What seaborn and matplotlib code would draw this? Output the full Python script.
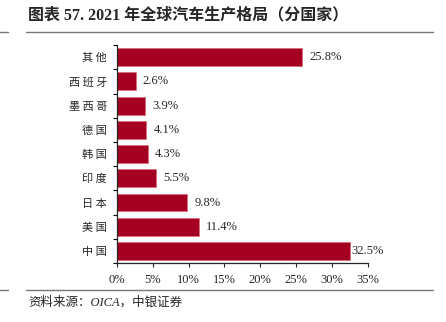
import matplotlib
matplotlib.use("Agg")
import matplotlib.pyplot as plt
import seaborn as sns
import pandas as pd
from matplotlib.ticker import FixedLocator, FuncFormatter
from matplotlib.lines import Line2D

# 2021 global vehicle production share by country (%)
countries = ["其他", "西班牙", "墨西哥", "德国", "韩国", "印度", "日本", "美国", "中国"]
shares = [25.8, 2.6, 3.9, 4.1, 4.3, 5.5, 9.8, 11.4, 32.5]
x_ticks = [0, 5, 10, 15, 20, 25, 30, 35]

title_text = "图表 57. 2021 年全球汽车生产格局（分国家）"
source_text = "资料来源：OICA，中银证券"

sns.set_style("ticks")
fonts = ["Liberation Serif", "Noto Sans CJK SC", "DejaVu Sans"]
plt.rcParams["font.family"] = fonts

df = pd.DataFrame({"country": countries, "share": shares})

fig = plt.figure(figsize=(4.46, 3.22), dpi=100)
ax = fig.add_axes([0.262, 0.183, 0.563, 0.677])

bar_color = "#A50021"
sns.barplot(data=df, x="share", y="country", orient="h", color=bar_color,
            saturation=1, width=0.74, edgecolor="#D9707F", linewidth=0.6, ax=ax)

ax.set_xlim(0, 35)
ax.set_ylim(len(countries) - 0.5, -0.5)
ax.xaxis.set_major_locator(FixedLocator(x_ticks))
ax.xaxis.set_major_formatter(FuncFormatter(lambda v, p: f"{v:.0f}%"))
ax.set_xlabel("")
ax.set_ylabel("")

# y ticks sit at category boundaries
ax.yaxis.set_minor_locator(FixedLocator([i - 0.5 for i in range(len(countries) + 1)]))
ax.tick_params(axis="y", which="major", length=0, labelsize=8, pad=7)
ax.tick_params(axis="y", which="minor", length=3, width=0.8, color="black")
ax.tick_params(axis="x", which="major", length=3, width=0.8, labelsize=9, pad=5)

ax.set_yticks(range(len(countries)))
ax.set_yticklabels([" ".join(c) for c in countries], fontfamily=["Noto Sans CJK SC"])

for s in ["top", "right"]:
    ax.spines[s].set_visible(False)
for s in ["left", "bottom"]:
    ax.spines[s].set_linewidth(0.9)

for i, v in enumerate(shares):
    gap = 0.2 if v > 30 else 1.0
    ax.text(v + gap, i, f"{v:.1f}%", va="center", ha="left", fontsize=9,
            fontfamily=fonts)

fig.text(0.063, 0.953, title_text, fontsize=11.5, fontweight="bold",
         va="center", ha="left", fontfamily=fonts)

line_kw = dict(color="#777777", linewidth=1.0, transform=fig.transFigure)
fig.add_artist(Line2D([0.0, 0.018], [0.900, 0.900], **line_kw))
fig.add_artist(Line2D([0.058, 0.970], [0.900, 0.900], **line_kw))
fig.add_artist(Line2D([0.0, 0.018], [0.099, 0.099], **line_kw))
fig.add_artist(Line2D([0.058, 0.970], [0.099, 0.099], **line_kw))

fig.text(0.063, 0.062, source_text, fontsize=9, fontstyle="italic",
         va="center", ha="left", fontfamily=["Liberation Serif", "Noto Sans CJK SC"])

fig.savefig("out.png", dpi=100)
